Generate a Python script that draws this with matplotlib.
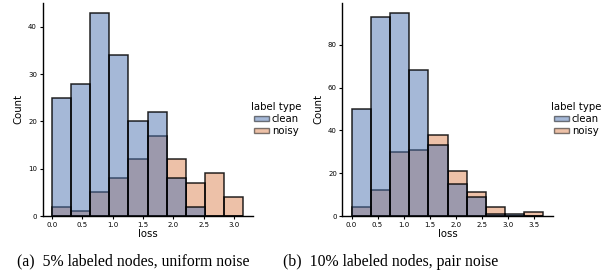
import numpy as np
import matplotlib
matplotlib.use("Agg")
import matplotlib.pyplot as plt
from matplotlib.patches import Patch

# histogram counts (10 shared bins per panel)
bins_a = (0.0, 3.15)
clean_a = [25, 28, 43, 34, 20, 22, 8, 2, 0, 0]
noisy_a = [2, 1, 5, 8, 12, 17, 12, 7, 9, 4]

bins_b = (0.01, 3.68)
clean_b = [50, 93, 95, 68, 33, 15, 9, 1, 1, 0]
noisy_b = [4, 12, 30, 31, 38, 21, 11, 4, 0, 2]

captions = ["(a)  5% labeled nodes, uniform noise",
            "(b)  10% labeled nodes, pair noise"]
labels = ["clean", "noisy"]
blue = "#4C72B0"
orange = "#DD8452"

fig = plt.figure(figsize=(6.16, 2.78), dpi=100)
ax1 = fig.add_axes([0.069, 0.223, 0.341, 0.768])
ax2 = fig.add_axes([0.556, 0.223, 0.341, 0.768])


def draw(ax, rng, clean, noisy):
    edges = np.linspace(rng[0], rng[1], len(clean) + 1)
    w = edges[1] - edges[0]
    # noisy drawn first, clean on top (seaborn hue order)
    ax.bar(edges[:-1], noisy, width=w, align="edge", color=orange, alpha=0.5,
           edgecolor="none")
    ax.bar(edges[:-1], noisy, width=w, align="edge", fill=False,
           edgecolor=(0, 0, 0, 0.85), linewidth=1.1)
    ax.bar(edges[:-1], clean, width=w, align="edge", color=blue, alpha=0.5,
           edgecolor="none")
    ax.bar(edges[:-1], clean, width=w, align="edge", fill=False,
           edgecolor=(0, 0, 0, 0.85), linewidth=1.1)
    ax.margins(x=0.05)
    for s in ["top", "right"]:
        ax.spines[s].set_visible(False)
    for s in ["left", "bottom"]:
        ax.spines[s].set_linewidth(1.0)
    ax.tick_params(labelsize=5, length=2.5, width=0.8, pad=1.5)
    ax.set_xlabel("loss", fontsize=7.3, labelpad=1)
    ax.set_ylabel("Count", fontsize=7.3, labelpad=3)


draw(ax1, bins_a, clean_a, noisy_a)
ax1.set_xticks([0.0, 0.5, 1.0, 1.5, 2.0, 2.5, 3.0])
ax1.set_yticks([0, 10, 20, 30, 40])
draw(ax2, bins_b, clean_b, noisy_b)
ax2.set_xticks([0.0, 0.5, 1.0, 1.5, 2.0, 2.5, 3.0, 3.5])
ax2.set_yticks([0, 20, 40, 60, 80])

handles = [Patch(facecolor=blue, alpha=0.5, edgecolor="black", linewidth=1),
           Patch(facecolor=orange, alpha=0.5, edgecolor="black", linewidth=1)]
for x in [0.396, 0.883]:
    fig.legend(handles, labels, title="label type", loc="center left",
               bbox_to_anchor=(x, 0.572), frameon=False, fontsize=7.3,
               title_fontsize=7.3, handlelength=1.5, handleheight=0.45,
               handletextpad=0.3, labelspacing=0.2, borderpad=0.2)

fig.text(0.028, 0.058, captions[0], fontsize=11.3, family="Liberation Serif",
         va="center", ha="left")
fig.text(0.459, 0.058, captions[1], fontsize=11.3, family="Liberation Serif",
         va="center", ha="left")

fig.savefig("out.png", dpi=100)
